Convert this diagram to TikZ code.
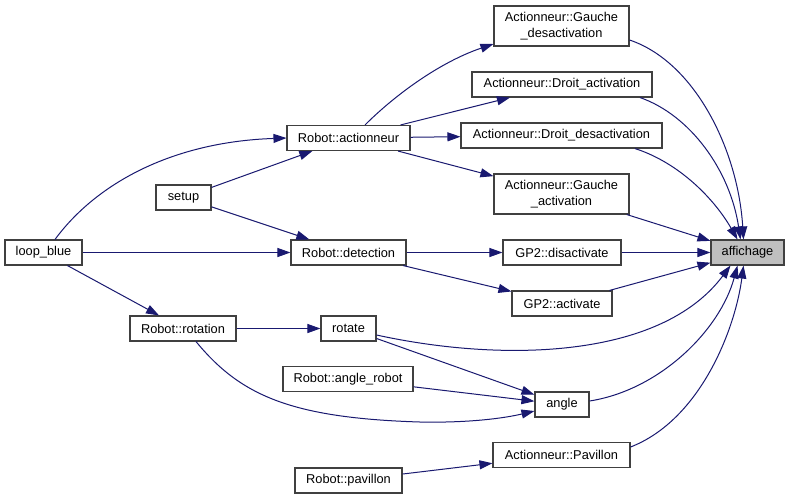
\documentclass[tikz,border=0pt]{standalone}
\usepackage{fontspec}
\setmainfont{Liberation Sans}
\usetikzlibrary{arrows.meta}
\definecolor{edgec}{RGB}{25,25,112}
\definecolor{borderc}{RGB}{64,64,64}
\definecolor{hlfill}{RGB}{191,191,191}
\begin{document}
\begin{tikzpicture}[x=1pt,y=-1pt,
  box/.style={draw=borderc, line width=1.1pt, fill=white, inner sep=0pt,
    font=\fontsize{12.8}{15.5}\selectfont, align=center, minimum height=25pt},
  tall/.style={minimum height=40pt},
  edge/.style={draw=edgec, line width=1pt, -{Triangle[length=13pt,width=9pt]}},
]
\path[fill=white] (0,0) rectangle (789,499);
\useasboundingbox (0,0) rectangle (789,499);

% nodes
\node[box, minimum width=77pt]  (lb)     at (43.5,252.5) {loop\_blue};
\node[box, minimum width=55pt]  (setup)  at (183.5,197.5) {setup};
\node[box, minimum width=123pt] (act)    at (348.5,138) {Robot::actionneur};
\node[box, minimum width=115pt] (det)    at (348.5,252.5) {Robot::detection};
\node[box, minimum width=106pt] (rot)    at (183,328.5) {Robot::rotation};
\node[box, minimum width=55pt]  (rotate) at (348.5,328.5) {rotate};
\node[box, minimum width=130pt] (angrob) at (348,379) {Robot::angle\_robot};
\node[box, minimum width=107pt] (pav)    at (348.5,480.5) {Robot::pavillon};
\node[box, tall, minimum width=135pt] (gaudes) at (561.5,26) {Actionneur::Gauche\\\_desactivation};
\node[box, minimum width=180pt] (droact) at (562,84.5) {Actionneur::Droit\_activation};
\node[box, minimum width=201pt] (drodes) at (561.5,135.5) {Actionneur::Droit\_desactivation};
\node[box, tall, minimum width=135pt] (gauact) at (561.5,194) {Actionneur::Gauche\\\_activation};
\node[box, minimum width=118pt] (gpdis)  at (562,252.5) {GP2::disactivate};
\node[box, minimum width=100pt] (gpact)  at (562,303.5) {GP2::activate};
\node[box, minimum width=54pt]  (ang)    at (562,404.5) {angle};
\node[box, minimum width=137pt] (apav)   at (561.5,455) {Actionneur::Pavillon};
\node[box, minimum width=73pt, fill=hlfill] (aff) at (747.5,252.5) {affichage};

% edges, left part
\draw[edge] ([xshift=11.5pt]lb.north) .. controls (95,185) and (170,142) .. (act.west);
\draw[edge] (setup) -- (act);
\draw[edge] (setup) -- (det);
\draw[edge] (lb) -- (det);
\draw[edge] (lb) -- (rot);
\draw[edge] (rot) -- (rotate);
\draw[edge] ([xshift=13pt]rot.south) .. controls (240,395) and (290,418) .. (420,422)
            .. controls (470,423) and (505,418) .. ([yshift=-6.5pt]ang.west);
\draw[edge] (rotate) -- (ang);
\draw[edge] (angrob) -- (ang);
\draw[edge] (pav) -- (apav);

% edges from Robot::actionneur
\draw[edge] ([xshift=16.5pt]act.north) .. controls (395,95) and (440,62) .. ([yshift=-18pt]gaudes.west);
\draw[edge] (act) -- (droact);
\draw[edge] (act) -- (drodes);
\draw[edge] (act) -- (gauact);

% edges from Robot::detection
\draw[edge] (det) -- (gpdis);
\draw[edge] (det) -- (gpact);

% edges into affichage
\draw[edge] ([yshift=-14pt]gaudes.east) .. controls (695,62) and (738,150) .. ([xshift=-4pt]aff.north);
\draw[edge] ([xshift=78pt]droact.south) .. controls (690,115) and (730,170) .. ([xshift=-7pt]aff.north);
\draw[edge] ([xshift=73.5pt]drodes.south) .. controls (680,163) and (715,200) .. ([xshift=-10pt]aff.north);
\draw[edge] (gauact) -- (aff);
\draw[edge] (gpdis) -- (aff);
\draw[edge] (gpact) -- (aff);
\draw[edge] ([yshift=-6.5pt]rotate.east) .. controls (500,362) and (660,360) .. ([xshift=-17pt]aff.south);
\draw[edge] ([yshift=3.5pt]ang.east) .. controls (660,390) and (720,330) .. ([xshift=-10pt]aff.south);
\draw[edge] ([yshift=8pt]apav.east) .. controls (700,420) and (735,330) .. ([xshift=-4pt]aff.south);
\end{tikzpicture}
\end{document}
